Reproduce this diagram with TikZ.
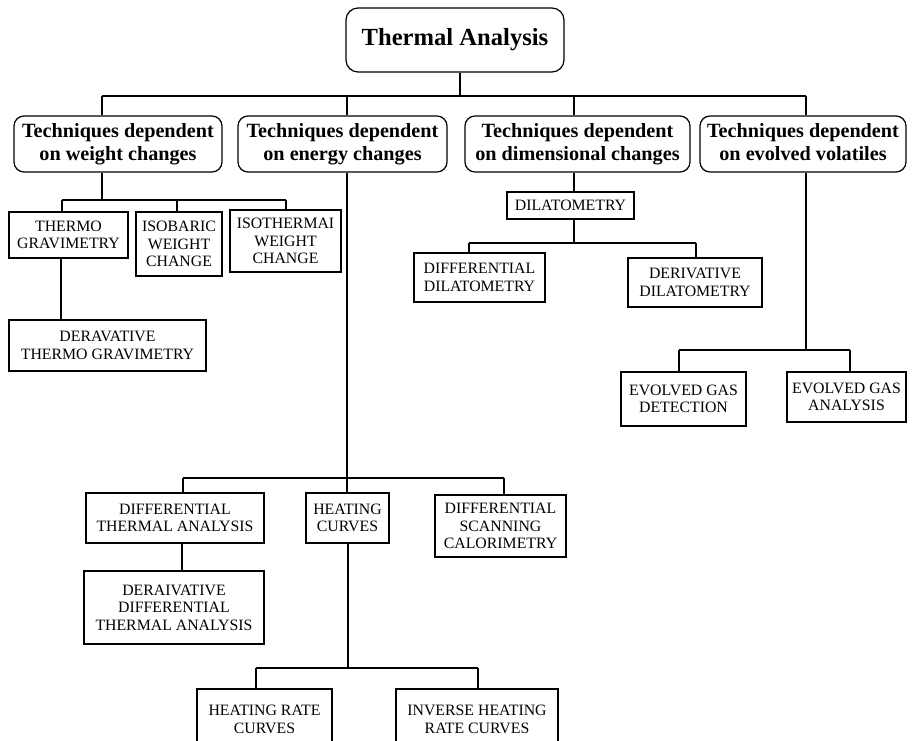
\documentclass[tikz,border=0pt]{standalone}
\usepackage{fontspec}
\setmainfont{Liberation Serif}

\begin{document}
\begin{tikzpicture}[x=0.02cm, y=-0.02cm, line width=0.7pt,
  root/.style={draw, rounded corners=0.24cm, align=center, inner sep=1pt, font=\fontsize{14}{16}\selectfont\bfseries},
  grp/.style={draw, rounded corners=0.2cm, align=center, inner sep=1pt, font=\fontsize{11.5}{13}\selectfont\bfseries},
  tech/.style={draw, align=center, inner sep=1pt, font=\fontsize{9}{10}\selectfont},
  sz/.style 2 args={minimum width=#1*0.02cm, minimum height=#2*0.02cm}
]
  \useasboundingbox (0,0) rectangle (912,740);
  \clip (0,0) rectangle (912,740);

  % root and the four groups
  \node[root, sz={218}{64}] (title) at (455,40) {Thermal Analysis};
  \node[grp, sz={208}{56}] (wt) at (118,144) {Techniques dependent\\on weight changes};
  \node[grp, sz={209}{56}] (en) at (342.5,144) {Techniques dependent\\on energy changes};
  \node[grp, sz={225}{56}] (dim) at (577.5,144) {Techniques dependent\\on dimensional changes};
  \node[grp, sz={206}{56}] (vol) at (803,144) {Techniques dependent\\on evolved volatiles\vphantom{g}};

  \coordinate (jTop) at (460,96);
  \coordinate (jWt) at (102,96);
  \coordinate (jEn) at (347,96);
  \coordinate (jDim) at (574,96);
  \coordinate (jVol) at (806,96);
  \draw (title.south -| jTop) -- (jTop);
  \draw (jWt) -- (jVol);
  \foreach \j/\n in {jWt/wt, jEn/en, jDim/dim, jVol/vol}
    \draw (\j) -- (\j |- \n.north);

  % weight changes
  \node[tech, sz={119}{46}] (tg) at (68.5,235) {THERMO\\GRAVIMETRY};
  \node[tech, sz={86}{64}] (iso) at (179,244) {ISOBARIC\\WEIGHT\\CHANGE};
  \node[tech, sz={111}{62}] (isoth) at (285.5,241) {ISOTHERMAI\\WEIGHT\\CHANGE};
  \node[tech, sz={197}{51}] (dtg) at (107.5,345.5) {DERAVATIVE\\THERMO GRAVIMETRY};

  \coordinate (wBus) at (102,200);
  \coordinate (wA) at (62,200);
  \coordinate (wB) at (177,200);
  \coordinate (wC) at (286,200);
  \coordinate (wD) at (61,0);
  \draw (wt.south -| wBus) -- (wBus);
  \draw (wA) -- (wC);
  \foreach \j/\n in {wA/tg, wB/iso, wC/isoth}
    \draw (\j) -- (\j |- \n.north);
  \draw (tg.south -| wD) -- (dtg.north -| wD);

  % energy changes
  \node[tech, sz={178}{50}] (dta) at (175,518) {DIFFERENTIAL\\THERMAL ANALYSIS};
  \node[tech, sz={83}{50}] (hc) at (347.5,518) {HEATING\\CURVES};
  \node[tech, sz={131}{62}] (dsc) at (500.5,526) {DIFFERENTIAL\\SCANNING\\CALORIMETRY};
  \node[tech, sz={180}{73}] (ddta) at (174,607.5) {DERAIVATIVE\\DIFFERENTIAL\\THERMAL ANALYSIS};
  \node[tech, sz={135}{61}] (hrc) at (264.5,719.5) {HEATING RATE\\CURVES};
  \node[tech, sz={162}{61}] (ihrc) at (477,719.5) {INVERSE HEATING\\RATE CURVES};

  \coordinate (eBus) at (347,478);
  \coordinate (eA) at (183,478);
  \coordinate (eC) at (504,478);
  \coordinate (eD) at (182,0);
  \draw (en.south -| eBus) -- (eBus);
  \draw (eA) -- (eC);
  \foreach \j/\n in {eA/dta, eBus/hc, eC/dsc}
    \draw (\j) -- (\j |- \n.north);
  \draw (dta.south -| eD) -- (ddta.north -| eD);

  \coordinate (hBus) at (348,668);
  \coordinate (hA) at (256,668);
  \coordinate (hB) at (478,668);
  \draw (hc.south -| hBus) -- (hBus);
  \draw (hA) -- (hB);
  \foreach \j/\n in {hA/hrc, hB/ihrc}
    \draw (\j) -- (\j |- \n.north);

  % dimensional changes
  \node[tech, sz={127}{27}] (dil) at (570.5,205.5) {DILATOMETRY};
  \node[tech, sz={131}{49}] (dd) at (479.5,277.5) {DIFFERENTIAL\\DILATOMETRY};
  \node[tech, sz={134}{49}] (dvd) at (695,282.5) {DERIVATIVE\\DILATOMETRY};

  \coordinate (dStem) at (574,0);
  \coordinate (dBus) at (574,243);
  \coordinate (dA) at (469,243);
  \coordinate (dB) at (696,243);
  \draw (dim.south -| dStem) -- (dil.north -| dStem);
  \draw (dil.south -| dBus) -- (dBus);
  \draw (dA) -- (dB);
  \foreach \j/\n in {dA/dd, dB/dvd}
    \draw (\j) -- (\j |- \n.north);

  % evolved volatiles
  \node[tech, sz={125}{54}] (egd) at (683.5,399) {EVOLVED GAS\\DETECTION};
  \node[tech, sz={119}{50}] (ega) at (846.5,397) {EVOLVED GAS\\ANALYSIS};

  \coordinate (vBus) at (806,350);
  \coordinate (vA) at (679,350);
  \coordinate (vB) at (850,350);
  \draw (vol.south -| vBus) -- (vBus);
  \draw (vA) -- (vB);
  \foreach \j/\n in {vA/egd, vB/ega}
    \draw (\j) -- (\j |- \n.north);
\end{tikzpicture}
\end{document}
